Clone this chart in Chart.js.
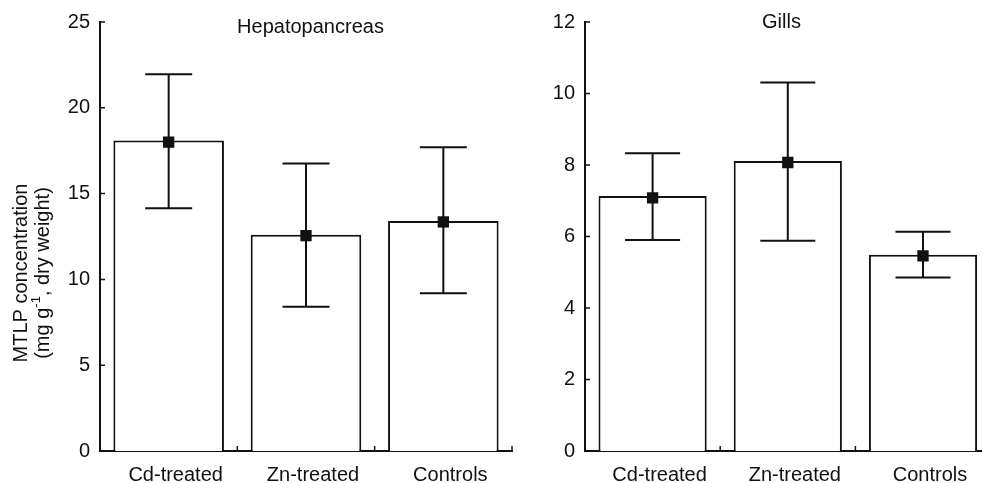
<!DOCTYPE html>
<html>
<head>
<meta charset="utf-8">
<script src="https://cdn.jsdelivr.net/npm/chart.js@4.4.0/dist/chart.umd.min.js"></script>
<style>
html, body { margin: 0; padding: 0; background: #fff; overflow: hidden; width: 982px; height: 483px; }
.panel { position: absolute; top: 0; height: 483px; }
#left { left: 0; width: 520px; }
#right { left: 500px; width: 500px; }
</style>
</head>
<body>
<div class="panel" id="left"><canvas id="hepChart"></canvas></div>
<div class="panel" id="right"><canvas id="gillChart"></canvas></div>
<script>
// values
const categories = ["Cd-treated", "Zn-treated", "Controls"];

const hepBars = [18.1, 12.6, 13.4];
const hepMeans = [18.0, 12.55, 13.35];
const hepLow = [14.15, 8.4, 9.2];
const hepHigh = [21.95, 16.75, 17.7];
const hepTicks = [0, 5, 10, 15, 20, 25];

const gillBars = [7.13, 8.11, 5.49];
const gillMeans = [7.08, 8.07, 5.46];
const gillLow = [5.9, 5.88, 4.85];
const gillHigh = [8.33, 10.31, 6.13];
const gillTicks = [0, 2, 4, 6, 8, 10, 12];

const ink = "#111";
const fontFamily = "'Liberation Sans', Arial, Helvetica, sans-serif";

// error bars, inward ticks, panel title and the y title
const panelDecor = {
	id: "panelDecor",
	afterDatasetDraw(chart, args, opts) {
		if (args.index !== 0) return;
		const x = chart.scales.x;
		const y = chart.scales.y;
		const ctx = chart.ctx;
		ctx.save();
		ctx.strokeStyle = ink;
		ctx.lineWidth = 2;
		opts.low.forEach((lo, i) => {
			const px = x.getPixelForValue(i);
			const yl = y.getPixelForValue(lo);
			const yh = y.getPixelForValue(opts.high[i]);
			ctx.beginPath();
			ctx.moveTo(px, yl);
			ctx.lineTo(px, yh);
			ctx.moveTo(px - opts.cap, yl);
			ctx.lineTo(px + opts.cap, yl);
			ctx.moveTo(px - opts.cap, yh);
			ctx.lineTo(px + opts.cap, yh);
			ctx.stroke();
		});
		ctx.restore();
	},
	afterDraw(chart, args, opts) {
		const x = chart.scales.x;
		const y = chart.scales.y;
		const area = chart.chartArea;
		const ctx = chart.ctx;
		ctx.save();
		ctx.strokeStyle = ink;
		ctx.lineWidth = 1.5;
		ctx.beginPath();
		y.ticks.forEach((t) => {
			const py = y.getPixelForValue(t.value);
			ctx.moveTo(area.left, py);
			ctx.lineTo(area.left + 5, py);
		});
		for (let i = 0; i < categories.length; i++) {
			const px = x.getPixelForValue(i + 0.5);
			ctx.moveTo(px, area.bottom);
			ctx.lineTo(px, area.bottom - 5);
		}
		ctx.stroke();

		ctx.fillStyle = ink;
		ctx.font = "20px " + fontFamily;
		ctx.textAlign = "center";
		ctx.textBaseline = "alphabetic";
		ctx.fillText(opts.title, opts.titleX, opts.titleY);

		if (opts.yTitle) {
			ctx.translate(opts.yTitleX, opts.yTitleY);
			ctx.rotate(-Math.PI / 2);
			ctx.textBaseline = "middle";
			ctx.fillText("MTLP concentration", 0, -11);
			// second line with a superscript
			const parts = ["(mg g", "-1", ", dry weight)"];
			const big = "20px " + fontFamily;
			const small = "13px " + fontFamily;
			ctx.font = big;
			const w0 = ctx.measureText(parts[0]).width;
			const w2 = ctx.measureText(parts[2]).width;
			ctx.font = small;
			const w1 = ctx.measureText(parts[1]).width;
			let sx = -(w0 + w1 + w2) / 2;
			ctx.textAlign = "left";
			ctx.font = big;
			ctx.fillText(parts[0], sx, 11);
			sx += w0;
			ctx.font = small;
			ctx.fillText(parts[1], sx, 4);
			sx += w1;
			ctx.font = big;
			ctx.fillText(parts[2], sx, 11);
		}
		ctx.restore();
	},
};

function makePanel(id, cfg) {
	return new Chart(document.getElementById(id), {
		type: "bar",
		data: {
			labels: categories,
			datasets: [
				{
					type: "bar",
					data: cfg.bars,
					backgroundColor: "#fff",
					borderColor: ink,
					borderWidth: 2,
					barPercentage: cfg.barPct,
					categoryPercentage: 1,
					order: 2,
				},
				{
					type: "line",
					data: cfg.means,
					showLine: false,
					pointStyle: "rect",
					pointRadius: 8,
					pointHoverRadius: 8,
					pointBackgroundColor: ink,
					pointBorderWidth: 0,
					order: 1,
				},
			],
		},
		options: {
			responsive: true,
			maintainAspectRatio: false,
			animation: false,
			events: [],
			layout: { padding: { top: 18, right: cfg.padRight, left: 0, bottom: 0 } },
			plugins: {
				legend: { display: false },
				tooltip: { enabled: false },
				panelDecor: {
					low: cfg.low,
					high: cfg.high,
					cap: cfg.cap,
					title: cfg.title,
					titleX: cfg.titleX,
					titleY: cfg.titleY,
					yTitle: cfg.yTitle,
					yTitleX: 32,
					yTitleY: 273,
				},
			},
			scales: {
				x: {
					grid: { display: false, drawTicks: false },
					border: { display: true, color: ink, width: 2 },
					ticks: { color: ink, font: { family: fontFamily, size: 20 }, padding: 12, labelOffset: 7, maxRotation: 0 },
					afterFit: (s) => { s.height = 32; },
				},
				y: {
					min: 0,
					max: cfg.ticks[cfg.ticks.length - 1],
					afterBuildTicks: (s) => { s.ticks = cfg.ticks.map((v) => ({ value: v })); },
					grid: { display: false, drawTicks: false },
					border: { display: true, color: ink, width: 2 },
					ticks: { color: ink, font: { family: fontFamily, size: 20 }, padding: 10 },
					afterFit: (s) => { s.width = cfg.yWidth; },
				},
			},
		},
		plugins: [panelDecor],
	});
}

makePanel("hepChart", {
	bars: hepBars, means: hepMeans, low: hepLow, high: hepHigh, ticks: hepTicks,
	barPct: 0.805, cap: 23.5, padRight: 1, yWidth: 100,
	title: "Hepatopancreas", titleX: 310.5, titleY: 33.3, yTitle: true,
});

makePanel("gillChart", {
	bars: gillBars, means: gillMeans, low: gillLow, high: gillHigh, ticks: gillTicks,
	barPct: 0.8, cap: 27.5, padRight: 9.4, yWidth: 85,
	title: "Gills", titleX: 281.5, titleY: 28.3, yTitle: false,
});
</script>
</body>
</html>
